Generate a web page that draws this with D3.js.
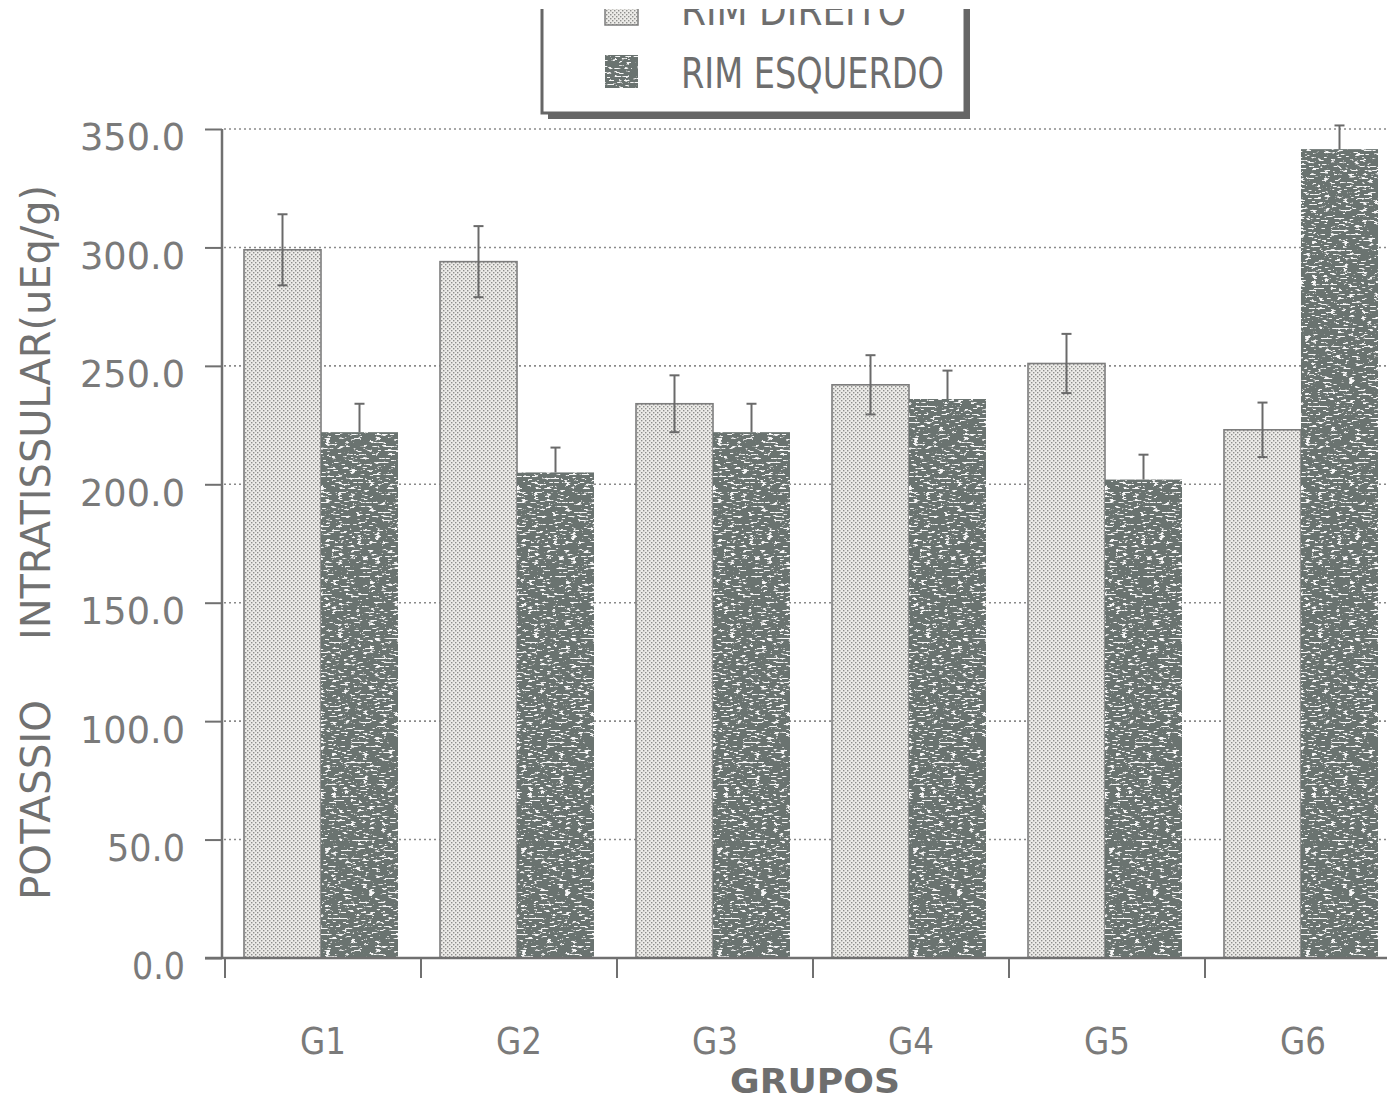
<!DOCTYPE html>
<html><head><meta charset="utf-8">
<script src="https://cdn.jsdelivr.net/npm/d3@7"></script>
<style>
html,body{margin:0;padding:0;background:#fff;}
svg{display:block;}
</style></head>
<body>
<svg id="chart" width="1387" height="1100"></svg>
<script>
// ---- data ----
const groups = ["G1","G2","G3","G4","G5","G6"];
const seriesNames = ["RIM DIREITO","RIM ESQUERDO"];
const rimDireito = [299, 294, 234, 242, 251, 223];
const rimEsquerdo = [222, 205, 222, 236, 202, 341.5];
const errDireito = [15, 15, 12, 12.5, 12.5, 11.5];
const errEsquerdo = [12, 10.5, 12, 12, 10.5, 10];
const yTicks = [0, 50, 100, 150, 200, 250, 300, 350];

const svg = d3.select("#chart");
const defs = svg.append("defs");

// light dotted pattern
const pl = defs.append("pattern").attr("id","lightPat").attr("patternUnits","userSpaceOnUse")
  .attr("width",4).attr("height",4);
pl.append("rect").attr("width",4).attr("height",4).attr("fill","#ecebe8");
pl.append("rect").attr("x",0).attr("y",0).attr("width",1.4).attr("height",1.4).attr("fill","#8e8e8c");
pl.append("rect").attr("x",2).attr("y",2).attr("width",1.4).attr("height",1.4).attr("fill","#8e8e8c");

// speckle filter for dark bars
const f = defs.append("filter").attr("id","speck").attr("x",0).attr("y",0).attr("width",1).attr("height",1);
f.append("feTurbulence").attr("type","fractalNoise").attr("baseFrequency","0.16 0.5")
  .attr("numOctaves",3).attr("seed",11).attr("result","noise");
f.append("feColorMatrix").attr("in","noise").attr("type","matrix")
  .attr("values","0 0 0 0 0.93  0 0 0 0 0.93  0 0 0 0 0.93  12 0 0 0 -7.1").attr("result","spk");
f.append("feComposite").attr("in","spk").attr("in2","SourceGraphic").attr("operator","in").attr("result","spk2");
const fm = f.append("feMerge");
fm.append("feMergeNode").attr("in","SourceGraphic");
fm.append("feMergeNode").attr("in","spk2");

// ---- scales ----
const y = d3.scaleLinear().domain([0,350]).range([958,129]);
const x0 = d3.scaleBand().domain(groups).range([225,1401]).padding(0);
const x1 = d3.scaleBand().domain(seriesNames).range([19,173]).padding(0);

const gray = "#707070";
const darkFill = "#6a7370";

// gridlines (dotted)
svg.append("g").selectAll("line").data(yTicks.filter(d=>d>0)).join("line")
  .attr("x1",224).attr("x2",1387).attr("y1",d=>y(d)).attr("y2",d=>y(d))
  .attr("stroke","#8a8a8a").attr("stroke-width",1.6).attr("stroke-dasharray","2,3");

// y axis
const yAxis = d3.axisLeft(y).tickValues(yTicks).tickSize(17).tickPadding(20)
  .tickFormat(d3.format(".1f"));
const ya = svg.append("g").attr("transform","translate(222,0)").call(yAxis);
ya.select(".domain").attr("stroke",gray).attr("stroke-width",2.5).attr("d","M0,129V958");
ya.selectAll(".tick line").attr("stroke",gray).attr("stroke-width",2);
ya.selectAll(".tick text").attr("fill","#7a7a7a").attr("font-family","DejaVu Sans")
  .attr("font-size",38).attr("dy","0.55em").attr("x",-37)
  .attr("textLength",d=>d>=100?105:(d>0?78:53)).attr("lengthAdjust","spacingAndGlyphs");

// bars
const data = groups.map((g,i)=>({g, vals:[
  {s:seriesNames[0], v:rimDireito[i], e:errDireito[i]},
  {s:seriesNames[1], v:rimEsquerdo[i], e:errEsquerdo[i]}]}));

const gg = svg.append("g").selectAll("g").data(data).join("g")
  .attr("transform",d=>`translate(${x0(d.g)},0)`);

gg.selectAll("rect.bar").data(d=>d.vals).join("rect").attr("class","bar")
  .attr("x",d=>x1(d.s)).attr("width",x1.bandwidth())
  .attr("y",d=>y(d.v)).attr("height",d=>y(0)-y(d.v))
  .attr("fill",d=>d.s===seriesNames[0]?"url(#lightPat)":darkFill)
  .attr("filter",d=>d.s===seriesNames[0]?null:"url(#speck)")
  .attr("stroke",d=>d.s===seriesNames[0]?"#7d7d7d":"none").attr("stroke-width",1.6);

// error bars: full whisker on light bars, upper whisker on dark bars
gg.selectAll("g.err").data(d=>d.vals).join("g").attr("class","err").each(function(d){
  const g = d3.select(this);
  const cx = x1(d.s)+x1.bandwidth()/2;
  const light = d.s===seriesNames[0];
  const yLow = light ? y(d.v-d.e) : y(d.v);
  g.append("line").attr("x1",cx).attr("x2",cx).attr("y1",y(d.v+d.e)).attr("y2",yLow)
    .attr("stroke","#6a6a6a").attr("stroke-width",2);
  g.append("line").attr("x1",cx-5).attr("x2",cx+5).attr("y1",y(d.v+d.e)).attr("y2",y(d.v+d.e))
    .attr("stroke","#6a6a6a").attr("stroke-width",2);
  if (light) g.append("line").attr("x1",cx-5).attr("x2",cx+5).attr("y1",yLow).attr("y2",yLow)
    .attr("stroke","#6a6a6a").attr("stroke-width",2);
});

// x axis
const xAxis = d3.axisBottom(x0).tickSize(0).tickPadding(0).tickFormat(()=>"");
const xa = svg.append("g").attr("transform","translate(0,958)").call(xAxis);
xa.select(".domain").attr("d","M205,0H1387").attr("stroke",gray).attr("stroke-width",2.5);
xa.selectAll(".tick").remove();
xa.selectAll("line.bt").data(groups).join("line").attr("class","bt")
  .attr("x1",d=>x0(d)).attr("x2",d=>x0(d)).attr("y1",0).attr("y2",20)
  .attr("stroke",gray).attr("stroke-width",2);
xa.selectAll("text.gl").data(groups).join("text").attr("class","gl")
  .attr("x",d=>x0(d)+x0.bandwidth()/2).attr("y",96)
  .attr("text-anchor","middle").attr("fill","#7a7a7a")
  .attr("font-family","DejaVu Sans").attr("font-size",38)
  .attr("textLength",46).attr("lengthAdjust","spacingAndGlyphs").text(d=>d);

// axis titles
svg.append("text").attr("x",815).attr("y",1093).attr("text-anchor","middle")
  .attr("fill","#6e6e6e").attr("font-family","DejaVu Sans").attr("font-weight","bold")
  .attr("font-size",34).attr("textLength",170).attr("lengthAdjust","spacingAndGlyphs").text("GRUPOS");

const yl = svg.append("g").attr("transform","translate(50,0)");
yl.append("text").attr("transform","translate(0,900) rotate(-90)")
  .attr("fill","#717171").attr("font-family","DejaVu Sans Condensed, DejaVu Sans")
  .attr("font-size",40).attr("textLength",200).attr("lengthAdjust","spacingAndGlyphs").text("POTASSIO");
yl.append("text").attr("transform","translate(0,640) rotate(-90)")
  .attr("fill","#717171").attr("font-family","DejaVu Sans Condensed, DejaVu Sans")
  .attr("font-size",40).attr("textLength",455).attr("lengthAdjust","spacingAndGlyphs").text("INTRATISSULAR(uEq/g)");

// legend (top cut off as in the scanned reference)
defs.append("clipPath").attr("id","legClip").append("rect").attr("x",0).attr("y",9).attr("width",1387).attr("height",200);
const lg = svg.append("g").attr("clip-path","url(#legClip)");
lg.append("rect").attr("x",548).attr("y",-60).attr("width",422).attr("height",179).attr("fill","#666");
lg.append("rect").attr("x",542).attr("y",-60).attr("width",423).attr("height",173).attr("fill","#fff")
  .attr("stroke","#666").attr("stroke-width",3);
const legTexts = [{s:seriesNames[0], base:25}, {s:seriesNames[1], base:88}];
lg.selectAll("rect.sw").data(legTexts).join("rect").attr("class","sw")
  .attr("x",605).attr("y",d=>d.base-33).attr("width",33).attr("height",33)
  .attr("fill",d=>d.s===seriesNames[0]?"url(#lightPat)":darkFill)
  .attr("filter",d=>d.s===seriesNames[0]?null:"url(#speck)")
  .attr("stroke",d=>d.s===seriesNames[0]?"#7d7d7d":"none").attr("stroke-width",1.5);
lg.selectAll("text").data(legTexts).join("text")
  .attr("x",681).attr("y",d=>d.base).attr("fill","#6e6e6e")
  .attr("font-family","DejaVu Sans Condensed, DejaVu Sans").attr("font-size",43)
  .attr("textLength",d=>d.s===seriesNames[0]?225:263).attr("lengthAdjust","spacingAndGlyphs")
  .text(d=>d.s);
</script>
</body></html>
